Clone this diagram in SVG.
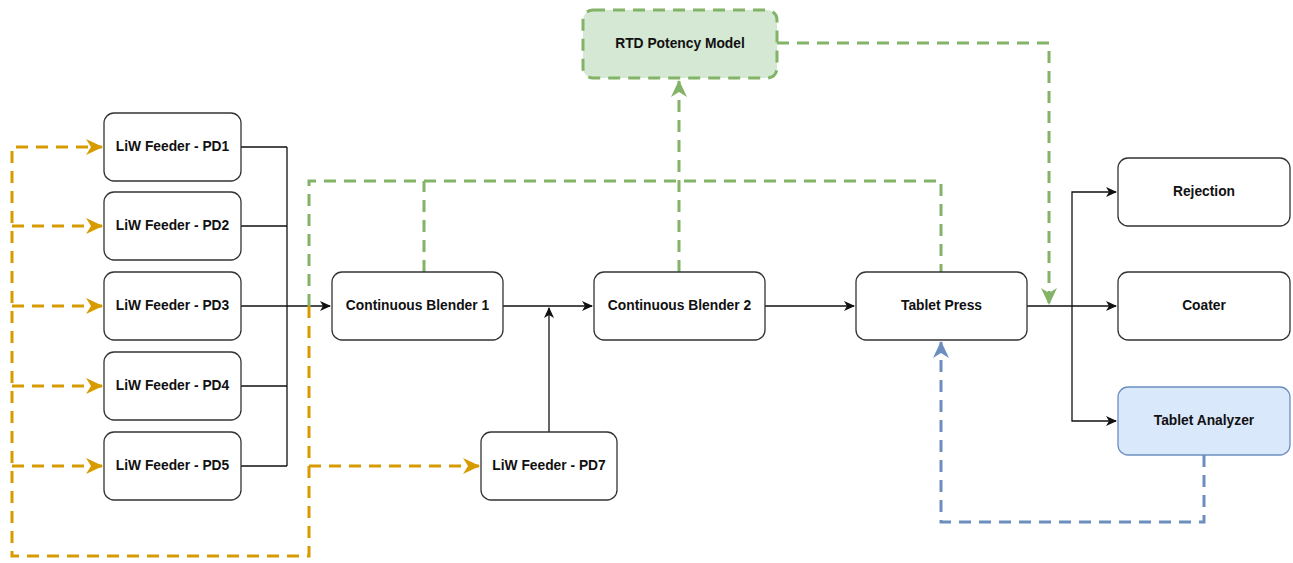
<svg xmlns="http://www.w3.org/2000/svg" width="1293" height="563" viewBox="0 0 1293 563">
<defs>
<style>
.n{fill:#fff;stroke:#333;stroke-width:1.3}
.t{font-family:"Liberation Sans",Arial,sans-serif;font-weight:bold;font-size:13.8px;fill:#111;text-anchor:middle;dominant-baseline:central}
.k{fill:none;stroke:#111;stroke-width:1.3}
.o{fill:none;stroke:#d79b00;stroke-width:3;stroke-dasharray:12 8}
.g{fill:none;stroke:#82b366;stroke-width:3;stroke-dasharray:12 8}
.b{fill:none;stroke:#6c8ebf;stroke-width:3;stroke-dasharray:12 8}
</style>
<marker id="ak" markerWidth="12" markerHeight="10" refX="10" refY="5" orient="auto" markerUnits="userSpaceOnUse"><path d="M0,0 L11,5 L0,10 L3,5 Z" fill="#111"/></marker>
<marker id="ao" markerWidth="18" markerHeight="16" refX="16" refY="8" orient="auto" markerUnits="userSpaceOnUse"><path d="M0,0 L17,8 L0,16 L5,8 Z" fill="#d79b00"/></marker>
<marker id="ag" markerWidth="18" markerHeight="16" refX="16" refY="8" orient="auto" markerUnits="userSpaceOnUse"><path d="M0,0 L17,8 L0,16 L5,8 Z" fill="#82b366"/></marker>
<marker id="ab" markerWidth="18" markerHeight="16" refX="16" refY="8" orient="auto" markerUnits="userSpaceOnUse"><path d="M0,0 L17,8 L0,16 L5,8 Z" fill="#6c8ebf"/></marker>
</defs>
<rect width="1293" height="563" fill="#fff"/>
<g id="connectors">
<path class="k" d="M241,147 H287 M241,226 H287 M241,386 H287 M241,466 H287 M287,147 V466"/>
<path class="k" d="M241,306 H330" marker-end="url(#ak)"/>
<path class="k" d="M503,306 H592" marker-end="url(#ak)"/>
<path class="k" d="M549,432 V308" marker-end="url(#ak)"/>
<path class="k" d="M765,306 H854" marker-end="url(#ak)"/>
<path class="k" d="M1027,306 H1116" marker-end="url(#ak)"/>
<path class="k" d="M1072,306 V192 H1116" marker-end="url(#ak)"/>
<path class="k" d="M1072,306 V421 H1116" marker-end="url(#ak)"/>
<path class="o" d="M309,306 V556 H12 V147 H102" marker-end="url(#ao)"/>
<path class="o" d="M12,226 H102" marker-end="url(#ao)"/>
<path class="o" d="M12,306 H102" marker-end="url(#ao)"/>
<path class="o" d="M12,386 H102" marker-end="url(#ao)"/>
<path class="o" d="M12,466 H102" marker-end="url(#ao)"/>
<path class="o" d="M309,466 H479" marker-end="url(#ao)"/>
<path class="g" d="M309,306 V181 H941 V272"/>
<path class="g" d="M424,272 V181"/>
<path class="g" d="M679,272 V81" marker-end="url(#ag)"/>
<path class="g" d="M777,43 H1049 V304" marker-end="url(#ag)"/>
<path class="b" d="M1204,455 V522 H941 V342" marker-end="url(#ab)"/>
</g>
<g id="pd1"><rect class="n" x="104" y="113" width="137" height="68" rx="10"/><text class="t" x="172.5" y="146">LiW Feeder - PD1</text></g>
<g id="pd2"><rect class="n" x="104" y="192" width="137" height="68" rx="10"/><text class="t" x="172.5" y="225">LiW Feeder - PD2</text></g>
<g id="pd3"><rect class="n" x="104" y="272" width="137" height="68" rx="10"/><text class="t" x="172.5" y="305">LiW Feeder - PD3</text></g>
<g id="pd4"><rect class="n" x="104" y="352" width="137" height="68" rx="10"/><text class="t" x="172.5" y="385">LiW Feeder - PD4</text></g>
<g id="pd5"><rect class="n" x="104" y="432" width="137" height="68" rx="10"/><text class="t" x="172.5" y="465">LiW Feeder - PD5</text></g>
<g id="pd7"><rect class="n" x="481" y="432" width="136" height="68" rx="10"/><text class="t" x="549" y="465">LiW Feeder - PD7</text></g>
<g id="blender1"><rect class="n" x="332" y="272" width="171" height="68" rx="10"/><text class="t" x="417.5" y="305">Continuous Blender 1</text></g>
<g id="blender2"><rect class="n" x="594" y="272" width="171" height="68" rx="10"/><text class="t" x="679.5" y="305">Continuous Blender 2</text></g>
<g id="press"><rect class="n" x="856" y="272" width="171" height="68" rx="10"/><text class="t" x="941.5" y="305">Tablet Press</text></g>
<g id="rejection"><rect class="n" x="1118" y="158" width="172" height="68" rx="10"/><text class="t" x="1204" y="191">Rejection</text></g>
<g id="coater"><rect class="n" x="1118" y="272" width="172" height="68" rx="10"/><text class="t" x="1204" y="305">Coater</text></g>
<g id="analyzer"><rect x="1118" y="387" width="172" height="68" rx="10" fill="#dae8fc" stroke="#6c8ebf" stroke-width="1.3"/><text class="t" x="1204" y="420">Tablet Analyzer</text></g>
<g id="rtd"><rect x="583" y="10" width="194" height="68" rx="10" fill="#d5e8d4" stroke="#82b366" stroke-width="3" stroke-dasharray="12 8"/><text class="t" x="680" y="43">RTD Potency Model</text></g>
</svg>
